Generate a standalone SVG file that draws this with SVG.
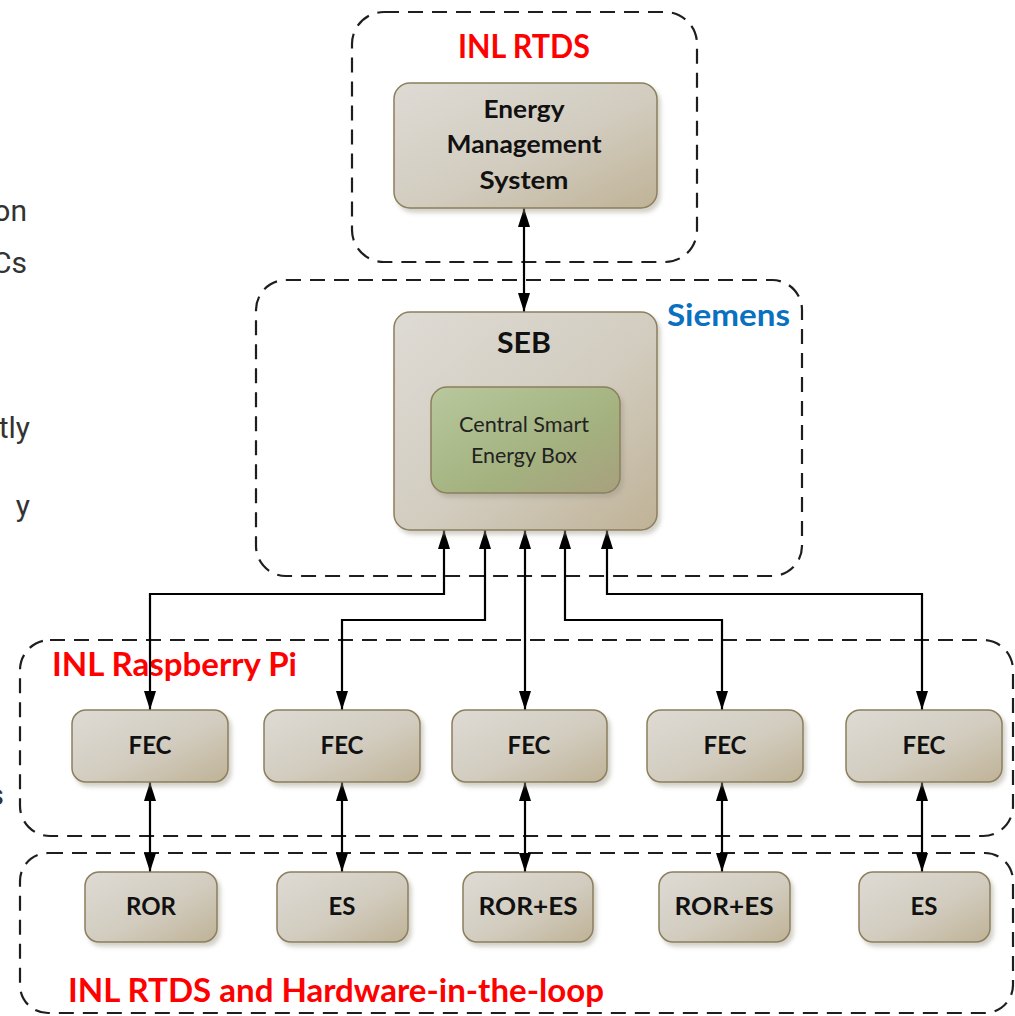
<svg xmlns="http://www.w3.org/2000/svg" width="1015" height="1016" viewBox="0 0 1015 1016">
<defs>
  <linearGradient id="gGray" x1="0" y1="0" x2="1" y2="1">
    <stop offset="0" stop-color="#dedbd5"/>
    <stop offset="0.55" stop-color="#d2ccbf"/>
    <stop offset="1" stop-color="#bfb296"/>
  </linearGradient>
  <linearGradient id="gGreen" x1="0" y1="0" x2="1" y2="1">
    <stop offset="0" stop-color="#b9c89d"/>
    <stop offset="0.6" stop-color="#a3b27f"/>
    <stop offset="1" stop-color="#a8a07e"/>
  </linearGradient>
  <filter id="sh" x="-10%" y="-10%" width="130%" height="130%">
    <feDropShadow dx="3" dy="4" stdDeviation="2" flood-color="#9c9786" flood-opacity="0.45"/>
  </filter>
  <marker id="ah" viewBox="0 0 19 12" refX="19" refY="6" markerWidth="19" markerHeight="12" markerUnits="userSpaceOnUse" orient="auto-start-reverse">
    <path d="M0,0 L19,6 L0,12 z" fill="#000"/>
  </marker>
</defs>
<style>
  .grp { fill: none; stroke: #1e1e1e; stroke-width: 2.2; stroke-dasharray: 15 9; }
  .nd { fill: url(#gGray); stroke: #8c7f5c; stroke-width: 1.5; filter: url(#sh); }
  .gn { fill: url(#gGreen); stroke: #8c7f5c; stroke-width: 1.5; filter: url(#sh); }
  .lbl { font-family: Lato, "Open Sans", sans-serif; font-weight: bold; }
  .red { fill: #ff0000; font-size: 33px; }
  .blue { fill: #0a70c0; font-size: 31px; }
  .nt { font-family: Lato, "Open Sans", sans-serif; font-weight: bold; fill: #111; text-anchor: middle; }
  .rt { font-family: Lato, "Open Sans", sans-serif; fill: #222; text-anchor: middle; font-size: 21px; }
  .side { font-family: Roboto, "Liberation Sans", Arial, sans-serif; fill: #333; font-size: 30px; }
  .cn { fill: none; stroke: #000; stroke-width: 2.2; marker-start: url(#ah); marker-end: url(#ah); }
</style>
<rect width="1015" height="1016" fill="#fff"/>

<!-- cut-off slide text on left -->
<g id="side-text">
  <text class="side" x="27" y="221" text-anchor="end">on</text>
  <text class="side" x="27" y="273" text-anchor="end">Cs</text>
  <text class="side" x="30" y="438" text-anchor="end">tly</text>
  <text class="side" x="30" y="516" text-anchor="end">y</text>
  <text class="side" x="4" y="805" text-anchor="end">s</text>
</g>

<!-- group containers -->
<g id="group-inl-rtds">
  <rect class="grp" x="352" y="12" width="345" height="250" rx="32"/>
  <text class="lbl red" x="458" y="58" textLength="132" lengthAdjust="spacingAndGlyphs">INL RTDS</text>
</g>
<g id="group-siemens">
  <rect class="grp" x="256" y="280" width="546" height="296" rx="30"/>
  <text class="lbl blue" x="667" y="326" textLength="123" lengthAdjust="spacingAndGlyphs">Siemens</text>
</g>
<g id="group-raspberry">
  <rect class="grp" x="20" y="640" width="993" height="196" rx="30"/>
  <text class="lbl red" x="52" y="676" textLength="245" lengthAdjust="spacingAndGlyphs">INL Raspberry Pi</text>
</g>
<g id="group-hil">
  <rect class="grp" x="20" y="853" width="993" height="160" rx="28"/>
  <text class="lbl red" x="68" y="1002" textLength="536" lengthAdjust="spacingAndGlyphs">INL RTDS and Hardware-in-the-loop</text>
</g>

<!-- connectors -->
<g id="connectors">
  <path class="cn" d="M524,208 V312"/>
  <path class="cn" d="M444,530 V594 H150 V710"/>
  <path class="cn" d="M485,530 V620 H342 V710"/>
  <path class="cn" d="M525,530 V710"/>
  <path class="cn" d="M565,530 V620 H722 V710"/>
  <path class="cn" d="M607,530 V594 H922 V710"/>
  <path class="cn" d="M150,782 V872"/>
  <path class="cn" d="M342,782 V872"/>
  <path class="cn" d="M525,782 V872"/>
  <path class="cn" d="M722,782 V872"/>
  <path class="cn" d="M922,782 V872"/>
</g>

<!-- nodes -->
<g id="ems">
  <rect class="nd" x="394" y="83" width="263" height="125" rx="16"/>
  <text class="nt" font-size="24" x="524" y="118" textLength="81" lengthAdjust="spacingAndGlyphs">Energy</text>
  <text class="nt" font-size="24" x="524" y="153" textLength="155" lengthAdjust="spacingAndGlyphs">Management</text>
  <text class="nt" font-size="24" x="524" y="189" textLength="89" lengthAdjust="spacingAndGlyphs">System</text>
</g>
<g id="seb">
  <rect class="nd" x="394" y="312" width="263" height="218" rx="16"/>
  <text class="nt" font-size="29" x="524" y="353" textLength="54" lengthAdjust="spacingAndGlyphs">SEB</text>
</g>
<g id="cseb">
  <rect class="gn" x="431" y="387" width="189" height="106" rx="16"/>
  <text class="rt" x="524" y="432" textLength="130" lengthAdjust="spacingAndGlyphs">Central Smart</text>
  <text class="rt" x="524" y="463" textLength="106" lengthAdjust="spacingAndGlyphs">Energy Box</text>
</g>

<g id="fec1"><rect class="nd" x="72" y="710" width="156" height="72" rx="14"/><text class="nt" font-size="24" x="150" y="754">FEC</text></g>
<g id="fec2"><rect class="nd" x="264" y="710" width="156" height="72" rx="14"/><text class="nt" font-size="24" x="342" y="754">FEC</text></g>
<g id="fec3"><rect class="nd" x="452" y="710" width="155" height="72" rx="14"/><text class="nt" font-size="24" x="529" y="754">FEC</text></g>
<g id="fec4"><rect class="nd" x="647" y="710" width="156" height="72" rx="14"/><text class="nt" font-size="24" x="725" y="754">FEC</text></g>
<g id="fec5"><rect class="nd" x="846" y="710" width="156" height="72" rx="14"/><text class="nt" font-size="24" x="924" y="754">FEC</text></g>

<g id="ror1"><rect class="nd" x="85" y="872" width="132" height="70" rx="14"/><text class="nt" font-size="24" x="151" y="915">ROR</text></g>
<g id="es1"><rect class="nd" x="277" y="872" width="131" height="70" rx="14"/><text class="nt" font-size="24" x="342" y="915">ES</text></g>
<g id="rores1"><rect class="nd" x="463" y="872" width="130" height="70" rx="14"/><text class="nt" font-size="24" x="528" y="915" textLength="99" lengthAdjust="spacingAndGlyphs">ROR+ES</text></g>
<g id="rores2"><rect class="nd" x="659" y="872" width="131" height="70" rx="14"/><text class="nt" font-size="24" x="724" y="915" textLength="99" lengthAdjust="spacingAndGlyphs">ROR+ES</text></g>
<g id="es2"><rect class="nd" x="859" y="872" width="131" height="70" rx="14"/><text class="nt" font-size="24" x="924" y="915">ES</text></g>
</svg>
